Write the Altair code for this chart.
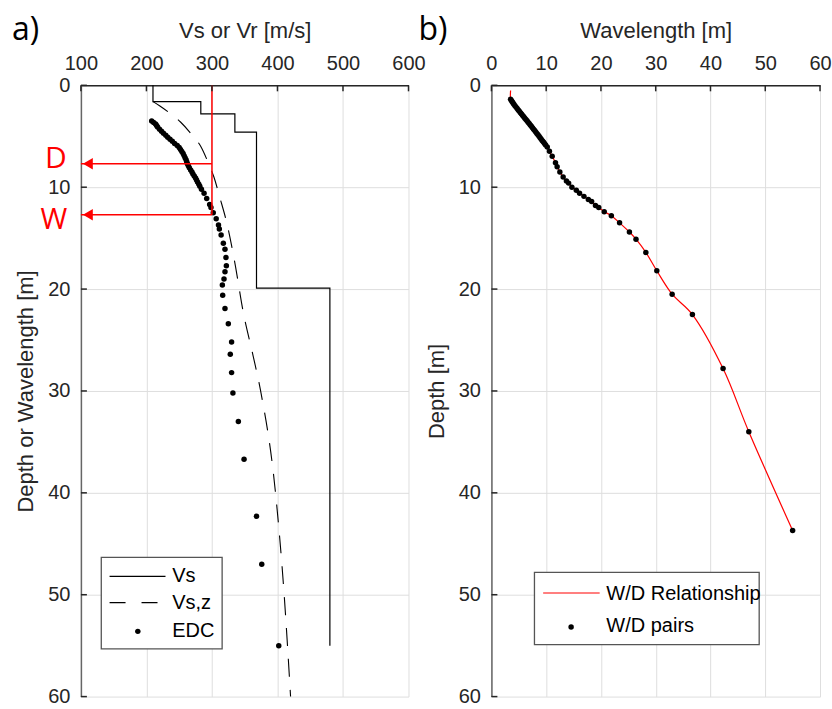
import altair as alt
import pandas as pd

# ---------------- data ----------------
# Panel a) shear-wave velocity profile (layered)
vs_layer_velocity = [210, 283, 335, 368, 480]
vs_layer_top = [0, 1.6, 2.8, 4.6, 19.9]
vs_layer_bottom = [1.6, 2.8, 4.6, 19.9, 55]

# Vs,z (time-averaged velocity) curve
vsz_depth = [1.6, 2.0, 2.8, 3.6, 4.9, 6.0, 7.7, 9.0, 11.0, 13.6, 17.8, 22.0, 26.6, 29.9, 40.0, 49.8, 60.0]
vsz_velocity = [210, 220, 237, 252, 270, 283, 295, 303, 312, 323, 336, 347, 363, 374, 397, 410, 420]

# EDC points (wavelength vs phase velocity) and W/D pairs
wavelength = [3.5, 3.65, 3.8, 3.95, 4.1, 4.3, 4.5, 4.7, 4.9, 5.1,
              5.3, 5.5, 5.7, 5.9, 6.1, 6.3, 6.5, 6.7, 6.9, 7.1,
              7.3, 7.5, 7.7, 7.9, 8.1, 8.3, 8.5, 8.7, 8.9, 9.1,
              9.3, 9.5, 9.7, 9.9, 10.2, 10.6, 11.1, 11.7, 12.0, 12.5,
              13.1, 13.7, 14.1, 14.7, 15.5, 16.1, 16.9, 17.7, 18.3, 19.0,
              19.6, 20.6, 21.9, 23.4, 25.2, 26.4, 28.2, 30.2, 33.0, 36.7,
              42.3, 47.0, 55.0]
edc_velocity = [208, 211, 214, 215.5, 217, 220, 223, 226, 229.5, 232.5,
                236, 239.5, 243, 247, 250, 252, 254, 256, 257.5, 259,
                260.5, 261.5, 262.5, 264, 265.5, 267.5, 269.5, 271, 273, 275,
                276.5, 278, 280, 281.5, 284, 288, 292, 296.5, 298.5, 302,
                306.5, 310, 311.3, 314, 317.4, 319.9, 321.4, 322, 319.9, 318.4,
                315.9, 316.4, 319.9, 325, 330, 328, 330, 332, 340.3, 349,
                368, 376, 402]
wd_depth = [1.37, 1.5, 1.62, 1.73, 1.85, 2.0, 2.14, 2.28, 2.42, 2.55,
            2.69, 2.82, 2.96, 3.09, 3.22, 3.35, 3.48, 3.62, 3.75, 3.89,
            4.02, 4.16, 4.3, 4.44, 4.58, 4.72, 4.86, 5.0, 5.14, 5.29,
            5.43, 5.57, 5.71, 5.85, 6.05, 6.47, 6.96, 7.6, 8.0, 8.5,
            9.0, 9.4, 9.6, 10.0, 10.3, 10.6, 10.9, 11.2, 11.4, 11.8,
            12.0, 12.4, 12.8, 13.5, 14.4, 15.1, 16.4, 18.2, 20.5, 22.5,
            27.8, 34.0, 43.7]
wd_line_start = (3.5, 0.5)   # red relationship curve starts above first pair

# D / W markers
marker_velocity = 300
marker_depth = {"D": 7.7, "W": 12.7}

x_ticks_a = [100, 200, 300, 400, 500, 600]
x_ticks_b = [0, 10, 20, 30, 40, 50, 60]
y_ticks = [0, 10, 20, 30, 40, 50, 60]

legend_a = ["Vs", "Vs,z", "EDC"]
legend_b = ["W/D Relationship", "W/D pairs"]
panel_labels = ["a)", "b)"]

# ---------------- tables ----------------
step_rows = []
for i, (v, t, b) in enumerate(zip(vs_layer_velocity, vs_layer_top, vs_layer_bottom)):
    step_rows.append({"x": v, "y": t, "o": 2 * i})
    step_rows.append({"x": v, "y": b, "o": 2 * i + 1})
step_df = pd.DataFrame(step_rows)
vsz_df = pd.DataFrame({"x": vsz_velocity, "y": vsz_depth})
edc_df = pd.DataFrame({"x": edc_velocity, "y": wavelength})
pairs_df = pd.DataFrame({"x": wavelength, "y": wd_depth})
rel_df = pd.DataFrame({"x": [wd_line_start[0]] + wavelength,
                       "y": [wd_line_start[1]] + wd_depth})
rel_df["o"] = range(len(rel_df))
vline_df = pd.DataFrame({"x": [marker_velocity], "y": [0], "y2": [marker_depth["W"]]})
hline_df = pd.DataFrame({"x": [x_ticks_a[0]] * 2, "x2": [marker_velocity] * 2,
                         "y": [marker_depth["D"], marker_depth["W"]],
                         "label": ["D", "W"]})

FONT = "Liberation Sans"
TXT = "#262626"
H = 612
WA = 328
WB = 329
DOT = 30

def xenc(domain, title, w, values):
    return alt.X("x:Q", scale=alt.Scale(domain=domain, nice=False, zero=False),
                 axis=alt.Axis(orient="top", values=values, title=title, grid=True,
                               titleX=w / 2, titleY=-55, titleBaseline="middle",
                               titleAlign="center", domainColor=TXT))

def yenc(title):
    return alt.Y("y:Q", scale=alt.Scale(domain=[0, 60], reverse=True, nice=False, zero=False),
                 axis=alt.Axis(orient="left", values=y_ticks, title=title, grid=True,
                               titleX=-55, titleY=H / 2, titleBaseline="middle",
                               titleAlign="center", domainColor="#666666"))

one = alt.Data(values=[{}])

def ticks(xdom, title, w, xvals):
    X = xenc(xdom, title, w, xvals)
    Y = yenc("")
    xt = alt.Chart(pd.DataFrame({"x": xvals})).mark_rule(color=TXT, strokeWidth=1.5).encode(
        x=X, y=alt.value(0), y2=alt.value(6))
    yt = alt.Chart(pd.DataFrame({"y": y_ticks})).mark_rule(color=TXT, strokeWidth=1.5).encode(
        y=Y, x=alt.value(0), x2=alt.value(6))
    return [xt, yt]

# ---------------- panel a ----------------
XA = xenc([100, 600], "Vs or Vr [m/s]", WA, x_ticks_a)
YA = yenc("Depth or Wavelength [m]")

a_step = alt.Chart(step_df).mark_line(color="black", strokeWidth=1.2).encode(x=XA, y=YA, order="o:Q")
a_vsz = alt.Chart(vsz_df).mark_line(color="black", strokeWidth=1.1, strokeDash=[18, 13],
                                    interpolate="monotone").encode(x=XA, y=YA, order="y:Q")
a_edc = alt.Chart(edc_df).mark_circle(color="black", size=DOT, opacity=1).encode(x=XA, y=YA)
a_vline = alt.Chart(vline_df).mark_rule(color="red", strokeWidth=1.5).encode(x=XA, y=YA, y2="y2:Q")
a_hline = alt.Chart(hline_df).mark_rule(color="red", strokeWidth=1.5).encode(x=XA, x2="x2:Q", y=YA)
a_head = alt.Chart(hline_df).mark_point(shape="triangle-left", filled=True, color="red",
                                        size=130, opacity=1, xOffset=7).encode(x=XA, y=YA)
a_D = alt.Chart(hline_df[hline_df.label == "D"]).mark_text(
    color="red", font="Open Sans", fontSize=30, dy=-5, align="center", baseline="middle").encode(
    x=alt.value(-25), y=YA, text="label:N")
a_W = alt.Chart(hline_df[hline_df.label == "W"]).mark_text(
    color="red", font="Open Sans", fontSize=29, dy=5, align="center", baseline="middle").encode(
    x=alt.value(-27), y=YA, text="label:N")

# legend a (drawn box)
la_box = alt.Chart(one).mark_rect(fill="white", stroke="#555555", strokeWidth=1.3).encode(
    x=alt.value(20.4), x2=alt.value(141.4), y=alt.value(472.7), y2=alt.value(564.3))
la_l1 = alt.Chart(one).mark_rule(color="black", strokeWidth=1.2).encode(
    x=alt.value(28.7), x2=alt.value(84.7), y=alt.value(491.7))
la_l2 = alt.Chart(one).mark_rule(color="black", strokeWidth=1.2, strokeDash=[16, 16]).encode(
    x=alt.value(28.7), x2=alt.value(84.7), y=alt.value(518))
la_pt = alt.Chart(one).mark_circle(color="black", size=DOT, opacity=1).encode(
    x=alt.value(57), y=alt.value(546.7))
la_txt = [alt.Chart(one).mark_text(font=FONT, fontSize=20, color="black", align="left",
                                   baseline="middle").encode(
    x=alt.value(91.4), y=alt.value(yy), text=alt.value(lab))
    for lab, yy in zip(legend_a, [491.7, 518, 546.7])]

a_lab = alt.Chart(one).mark_text(font="Open Sans", fontSize=32, color="black", align="left",
                                 baseline="middle").encode(
    x=alt.value(-69), y=alt.value(-55), text=alt.value(panel_labels[0]))

panel_a = alt.layer(a_step, a_vsz, a_edc, a_vline, a_hline, a_head, a_D, a_W,
                    *ticks([100, 600], "Vs or Vr [m/s]", WA, x_ticks_a),
                    la_box, la_l1, la_l2, la_pt, *la_txt, a_lab).properties(width=WA, height=H)

# ---------------- panel b ----------------
XB = xenc([0, 60], "Wavelength [m]", WB, x_ticks_b)
YB = yenc("Depth [m]")

b_line = alt.Chart(rel_df).mark_line(color="red", strokeWidth=1.2, interpolate="catmull-rom").encode(
    x=XB, y=YB, order="o:Q")
b_pts = alt.Chart(pairs_df).mark_circle(color="black", size=DOT, opacity=1).encode(x=XB, y=YB)

lb_box = alt.Chart(one).mark_rect(fill="white", stroke="#555555", strokeWidth=1.3).encode(
    x=alt.value(43.1), x2=alt.value(268.1), y=alt.value(487.7), y2=alt.value(560))
lb_l1 = alt.Chart(one).mark_rule(color="red", strokeWidth=1.2).encode(
    x=alt.value(51.8), x2=alt.value(108.4), y=alt.value(508.3))
lb_pt = alt.Chart(one).mark_circle(color="black", size=DOT, opacity=1).encode(
    x=alt.value(79.8), y=alt.value(542.3))
lb_txt = [alt.Chart(one).mark_text(font=FONT, fontSize=20, color="black", align="left",
                                   baseline="middle").encode(
    x=alt.value(115.1), y=alt.value(yy), text=alt.value(lab))
    for lab, yy in zip(legend_b, [509, 541.7])]
b_lab = alt.Chart(one).mark_text(font="Open Sans", fontSize=32, color="black", align="left",
                                 baseline="middle").encode(
    x=alt.value(-73), y=alt.value(-55), text=alt.value(panel_labels[1]))

panel_b = alt.layer(b_line, b_pts, *ticks([0, 60], "Wavelength [m]", WB, x_ticks_b),
                    lb_box, lb_l1, lb_pt, *lb_txt, b_lab).properties(width=WB, height=H)

chart = alt.hconcat(panel_a, panel_b, spacing=83, bounds="flush").properties(
    padding={"left": 12, "top": 14, "right": 0, "bottom": 0}
).configure_view(stroke=None).configure_axis(
    labelFont=FONT, labelFontSize=20, labelColor=TXT, labelPadding=11,
    titleFont=FONT, titleFontSize=22, titleColor=TXT, titleFontWeight="normal",
    ticks=False, domainWidth=1.5, gridColor="#dedede", gridWidth=1,
    labelFlush=False, labelOverlap=False
).configure_axisTop(labelPadding=12)

chart.save("out.html", embed_options={"renderer": "svg", "actions": False})
